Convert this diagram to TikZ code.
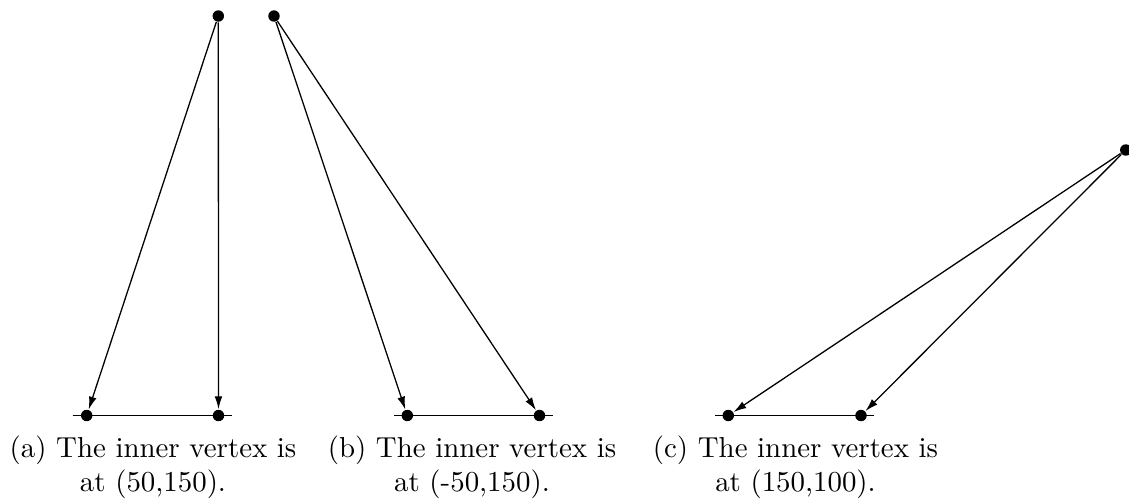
\documentclass[tikz,border=0pt]{standalone}
\usetikzlibrary{arrows.meta}
\begin{document}
\begin{tikzpicture}[x=0.34965pt, y=-0.34965pt,
  vtx/.style={circle, fill=black, inner sep=0pt, minimum size=4pt},
  arr/.style={line width=0.45pt, -{Latex[length=4.5pt,width=2.7pt]}},
  baseln/.style={line width=0.45pt},
  captext/.style={anchor=base, inner sep=0pt, font=\fontsize{10.1}{12}\selectfont}]
\useasboundingbox (0,0) rectangle (1129,499);
% (a)
\node[vtx] (a1) at (86.7,415.5) {};
\node[vtx] (a2) at (218.5,415.5) {};
\node[vtx] (at) at (218.3,16) {};
\coordinate (al) at (72.7,415.5);
\coordinate (ar) at (231.7,415.5);
\draw[baseln] (al) -- (ar);
\draw[arr] (at) -- (a1);
\draw[arr] (at) -- (a2);
\node[captext] (capa1) at (153,457.7) {(a) The inner vertex is};
\node[captext] (capa2) at (153,491) {at (50,150).};
% (b)
\node[vtx] (b1) at (407.3,415.5) {};
\node[vtx] (b2) at (539.5,415.5) {};
\node[vtx] (bt) at (274,16) {};
\coordinate (bl) at (394,415.5);
\coordinate (br) at (552.7,415.5);
\draw[baseln] (bl) -- (br);
\draw[arr] (bt) -- (b1);
\draw[arr] (bt) -- (b2);
\node[captext] (capb1) at (472,457.7) {(b) The inner vertex is};
\node[captext] (capb2) at (472,491) {at (-50,150).};
% (c)
\node[vtx] (c1) at (728.3,415.5) {};
\node[vtx] (c2) at (861,415.5) {};
\node[vtx] (ct) at (1125.8,150) {};
\coordinate (cl) at (715,415.5);
\coordinate (cr) at (874,415.5);
\draw[baseln] (cl) -- (cr);
\draw[arr] (ct) -- (c1);
\draw[arr] (ct) -- (c2);
\node[captext] (capc1) at (795.5,457.7) {(c) The inner vertex is};
\node[captext] (capc2) at (795.5,491) {at (150,100).};
\end{tikzpicture}
\end{document}
